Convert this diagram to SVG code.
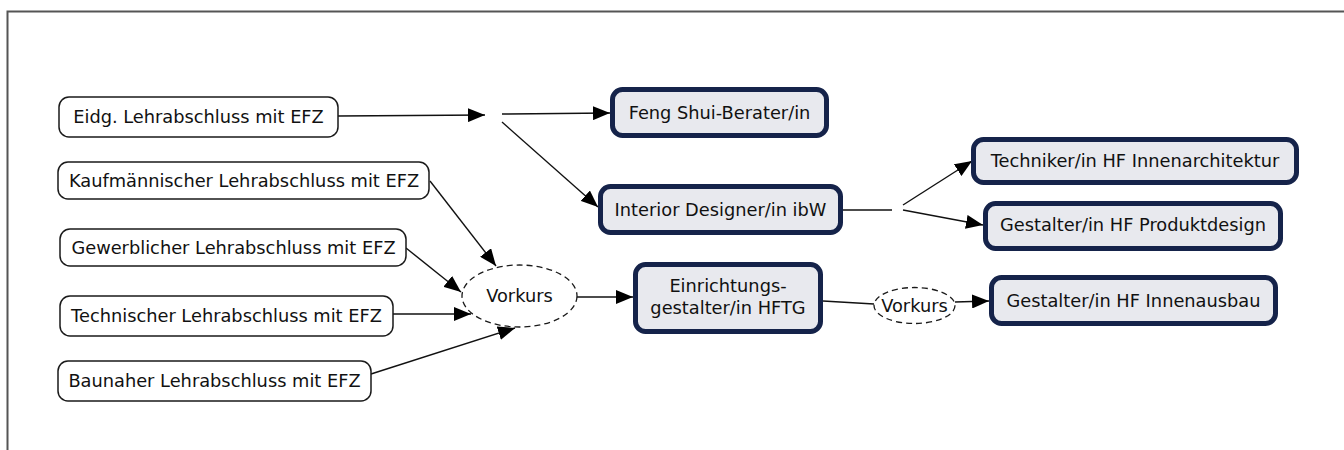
<svg xmlns="http://www.w3.org/2000/svg" width="1344" height="450" viewBox="0 0 1344 450">
<defs>
<style>
.lt rect{fill:#fff;stroke:#1a1a1a;stroke-width:1.5}
.dk rect{fill:#e8e9ee;stroke:#15234a;stroke-width:5}
.el ellipse{fill:#fff;stroke:#1a1a1a;stroke-width:1.3;stroke-dasharray:6 4}
text{font-family:"DejaVu Sans","Verdana",sans-serif;font-size:17.8px;fill:#111;text-anchor:middle}
#connectors line{stroke:#111;stroke-width:1.4;fill:none}
#connectors .a{marker-end:url(#arr)}
</style>
<marker id="arr" viewBox="0 0 17 14" refX="17" refY="7" markerWidth="17" markerHeight="14" markerUnits="userSpaceOnUse" orient="auto">
<path d="M0,0 L17,7 L0,14 z" fill="#000"/>
</marker>
</defs>
<rect width="1344" height="450" fill="#fff"/>
<path d="M7.5,450 V11.5 H1344" fill="none" stroke="#555" stroke-width="2"/>

<g id="connectors">
<line class="a" x1="338" y1="116" x2="485" y2="115"/>
<line class="a" x1="502" y1="114" x2="610" y2="113"/>
<line class="a" x1="502" y1="122" x2="598" y2="207"/>
<line x1="843" y1="210" x2="892" y2="210"/>
<line class="a" x1="903" y1="205" x2="972" y2="161"/>
<line class="a" x1="903" y1="210" x2="983" y2="225"/>
<line class="a" x1="430" y1="181" x2="496" y2="266"/>
<line class="a" x1="406" y1="248" x2="461" y2="292"/>
<line class="a" x1="393" y1="314" x2="471" y2="314"/>
<line class="a" x1="371" y1="374" x2="515" y2="328"/>
<line class="a" x1="577" y1="297" x2="633" y2="297"/>
<line x1="823" y1="301" x2="874" y2="304"/>
<line class="a" x1="955" y1="302" x2="989" y2="301"/>
</g>

<g id="n-eidg" class="lt"><rect x="59" y="97" width="279" height="40" rx="10"/><text x="198.5" y="123">Eidg. Lehrabschluss mit EFZ</text></g>
<g id="n-kauf" class="lt"><rect x="58" y="162" width="371" height="37" rx="10"/><text x="244" y="186.5">Kaufmännischer Lehrabschluss mit EFZ</text></g>
<g id="n-gew" class="lt"><rect x="60" y="229" width="346" height="37" rx="10"/><text x="233.5" y="253.5">Gewerblicher Lehrabschluss mit EFZ</text></g>
<g id="n-tech" class="lt"><rect x="60" y="296" width="333" height="40" rx="10"/><text x="226.5" y="322">Technischer Lehrabschluss mit EFZ</text></g>
<g id="n-bau" class="lt"><rect x="58" y="361" width="313" height="40" rx="10"/><text x="214.5" y="387">Baunaher Lehrabschluss mit EFZ</text></g>

<g id="n-vorkurs1" class="el"><ellipse cx="519.5" cy="296" rx="57.5" ry="31"/><text x="519.5" y="302">Vorkurs</text></g>
<g id="n-vorkurs2" class="el"><ellipse cx="914.5" cy="305.5" rx="40.5" ry="18"/><text x="914.5" y="311.5">Vorkurs</text></g>

<g id="n-feng" class="dk"><rect x="612.5" y="89.5" width="214" height="46" rx="10"/><text x="719.5" y="118.5">Feng Shui-Berater/in</text></g>
<g id="n-interior" class="dk"><rect x="600.5" y="186.5" width="240" height="46" rx="10"/><text x="720.5" y="215.5">Interior Designer/in ibW</text></g>
<g id="n-techniker" class="dk"><rect x="973.5" y="139.5" width="323" height="43" rx="10"/><text x="1135" y="167">Techniker/in HF Innenarchitektur</text></g>
<g id="n-produkt" class="dk"><rect x="985.5" y="203.5" width="295" height="45" rx="10"/><text x="1133" y="231">Gestalter/in HF Produktdesign</text></g>
<g id="n-einr" class="dk"><rect x="635.5" y="264.5" width="185" height="67" rx="10"/><text x="728" y="292">Einrichtungs-</text><text x="728" y="314">gestalter/in HFTG</text></g>
<g id="n-innen" class="dk"><rect x="991.5" y="277.5" width="284" height="46" rx="10"/><text x="1133.5" y="306.5">Gestalter/in HF Innenausbau</text></g>
</svg>
